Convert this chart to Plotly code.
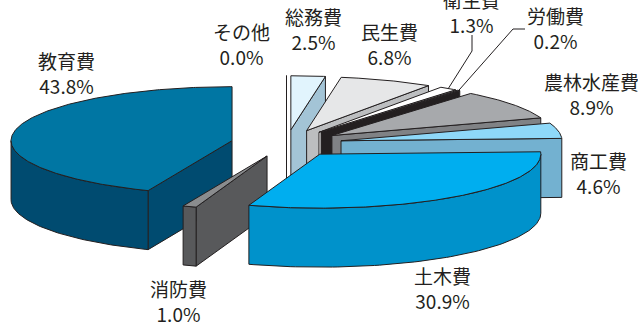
import numpy as np
import plotly.graph_objects as go

# Budget shares by purpose, in clockwise drawing order from the top of the pie
categories = ["教育費", "消防費", "土木費", "商工費", "農林水産費", "労働費", "衛生費", "民生費", "総務費", "その他"]
shares = [43.8, 1.0, 30.9, 4.6, 8.9, 0.2, 1.3, 6.8, 2.5, 0.0]

top_colors = ["#0076A3", "#8A8C8E", "#00AEEF", "#8ED8F8", "#A7A9AC", "#414042", "#FFFFFF", "#E6E7E8", "#E1F4FD", "#FFFFFF"]
side_colors = ["#004B70", "#58595B", "#0092CB", "#73B1D0", "#808285", "#231F20", "#FFFFFF", "#BCBEC0", "#A3C4D6", "#FFFFFF"]

# Label centres on the page
label_x = [66, 178, 442, 598, 591, 555, 471, 389, 313, 241]
label_y = [73, 301, 288, 173, 94, 28, 12, 44, 29, 44]

# Projection of the tilted pie
CX, CY = 286.5, 143.3
RX, RY = 221.0, 54.0
DEPTH = 59.0
EXPLODE = 55.5
OUTLINE = "#231F20"


def project(cx, cy, theta_deg):
    t = np.radians(theta_deg)
    return cx - RX * np.sin(t), cy - RY * np.cos(t)


def polygon(fig, xs, ys, color):
    fig.add_trace(go.Scatter(
        x=list(xs) + [xs[0]], y=list(ys) + [ys[0]],
        mode="lines", fill="toself", fillcolor=color,
        line=dict(color=OUTLINE, width=1), hoverinfo="skip", showlegend=False,
    ))


def draw_wall(fig, cx, cy, theta, color):
    ox, oy = project(cx, cy, theta)
    polygon(fig, [cx, ox, ox, cx], [cy, oy, oy + DEPTH, cy + DEPTH], color)


def draw_slice(fig, start, end, top, side):
    mid = (start + end) / 2
    cx, cy = project(CX, CY, mid)
    cx = CX + (cx - CX) * EXPLODE / RX
    cy = CY + (cy - CY) * EXPLODE / RY * (RY / RX)

    # Radial walls that face the viewer
    if np.sin(np.radians(end)) > 0:
        draw_wall(fig, cx, cy, end, side)
    if np.sin(np.radians(start)) < 0 or start == end:
        draw_wall(fig, cx, cy, start, side)

    # Curved rim on the near half of the ellipse
    lo, hi = max(start, 90), min(end, 270)
    if hi > lo:
        rim = np.linspace(lo, hi, 80)
        rx, ry = project(cx, cy, rim)
        polygon(fig, np.r_[rx, rx[::-1]], np.r_[ry, ry[::-1] + DEPTH], side)

    # Top face
    arc = np.linspace(start, end, max(int(end - start) * 2, 2))
    ax, ay = project(cx, cy, arc)
    polygon(fig, np.r_[cx, ax], np.r_[cy, ay], top)
    return cx, cy


fig = go.Figure()
edges = np.r_[0, np.cumsum(shares)] * 3.6
centres = {}
paint_order = list(range(9, 2, -1)) + [0, 1, 2]
for i in paint_order:
    centres[i] = draw_slice(fig, edges[i], edges[i + 1], top_colors[i], side_colors[i])

# Leader lines for the two narrow slices
for i, elbow in ((6, [(472, 35), (472, 51)]), (5, [(525, 29), (513, 29)])):
    tip = project(*centres[i], (edges[i] + edges[i + 1]) / 2)
    fig.add_trace(go.Scatter(
        x=[p[0] for p in elbow] + [tip[0]], y=[p[1] for p in elbow] + [tip[1]],
        mode="lines", line=dict(color=OUTLINE, width=1), hoverinfo="skip", showlegend=False,
    ))

for name, share, x, y in zip(categories, shares, label_x, label_y):
    fig.add_annotation(
        x=x, y=y, xref="x", yref="y", showarrow=False, align="center",
        text=f"{name}<br>{share:.1f}%",
        font=dict(family="Noto Sans CJK JP", size=19, color="#231F20"),
    )

fig.update_layout(
    width=638, height=322,
    margin=dict(l=0, r=0, t=0, b=0),
    paper_bgcolor="white", plot_bgcolor="white",
    xaxis=dict(range=[0, 638], visible=False, fixedrange=True),
    yaxis=dict(range=[322, 0], visible=False, fixedrange=True),
)
fig.write_html("out.html")
